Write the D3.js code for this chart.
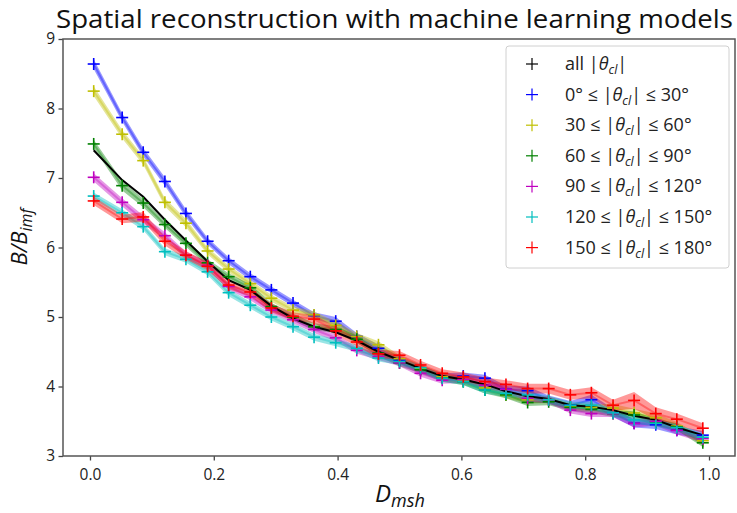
<!DOCTYPE html>
<html><head><meta charset="utf-8">
<script src="https://cdn.jsdelivr.net/npm/d3@7"></script>
<style>body{margin:0;background:#fff}svg{display:block}</style>
</head><body>
<script>
const xValues = [0.006,0.052,0.086,0.121,0.155,0.190,0.224,0.259,0.293,0.328,0.362,0.397,0.431,0.466,0.500,0.534,0.569,0.603,0.638,0.672,0.707,0.741,0.776,0.810,0.845,0.879,0.914,0.948,0.990];
const allTheta = [7.40,6.97,6.73,6.40,6.10,5.80,5.53,5.39,5.16,4.98,4.86,4.78,4.66,4.50,4.38,4.26,4.15,4.10,4.03,3.93,3.86,3.82,3.73,3.71,3.66,3.58,3.52,3.41,3.30];
const theta0_30 = [8.64,7.87,7.37,6.95,6.49,6.09,5.81,5.58,5.39,5.20,5.02,4.94,4.72,4.55,4.38,4.25,4.14,4.15,4.12,3.96,3.94,3.81,3.73,3.81,3.62,3.47,3.45,3.37,3.30];
const theta30_60 = [8.25,7.63,7.25,6.65,6.35,5.95,5.69,5.48,5.27,5.10,5.03,4.88,4.72,4.60,4.40,4.26,4.14,4.08,3.98,3.88,3.81,3.81,3.71,3.70,3.69,3.62,3.55,3.43,3.22];
const theta60_90 = [7.49,6.89,6.64,6.33,6.06,5.78,5.58,5.42,5.15,5.00,4.86,4.82,4.68,4.48,4.34,4.24,4.12,4.07,3.95,3.88,3.77,3.78,3.70,3.67,3.61,3.59,3.49,3.42,3.19];
const theta90_120 = [7.01,6.65,6.40,6.17,5.89,5.74,5.44,5.29,5.10,4.96,4.82,4.70,4.52,4.43,4.34,4.19,4.09,4.10,4.02,3.96,3.83,3.81,3.66,3.61,3.61,3.47,3.50,3.37,3.25];
const theta120_150 = [6.74,6.50,6.30,5.94,5.83,5.65,5.35,5.17,5.00,4.86,4.71,4.63,4.55,4.41,4.36,4.27,4.12,4.07,3.95,3.90,3.88,3.81,3.73,3.73,3.62,3.52,3.47,3.41,3.27];
const theta150_180 = [6.67,6.41,6.44,6.09,5.89,5.73,5.46,5.36,5.13,5.01,4.97,4.80,4.64,4.47,4.45,4.31,4.19,4.14,4.07,4.03,3.97,3.97,3.88,3.91,3.73,3.80,3.61,3.53,3.40];
// half-width of shaded bands
const err0_30 = [0.07,0.06,0.06,0.06,0.06,0.05,0.05,0.05,0.05,0.05,0.05,0.06,0.05,0.05,0.05,0.05,0.05,0.05,0.05,0.05,0.06,0.06,0.06,0.07,0.06,0.06,0.06,0.06,0.06];
const err30_60 = [0.07,0.06,0.06,0.06,0.06,0.05,0.05,0.05,0.05,0.05,0.05,0.05,0.05,0.05,0.05,0.05,0.05,0.05,0.05,0.05,0.05,0.05,0.05,0.05,0.06,0.06,0.06,0.06,0.06];
const err60_90 = [0.06,0.07,0.06,0.05,0.05,0.05,0.05,0.05,0.05,0.05,0.05,0.05,0.05,0.05,0.05,0.05,0.05,0.05,0.05,0.05,0.05,0.05,0.05,0.05,0.05,0.05,0.05,0.05,0.06];
const err90_120 = [0.06,0.06,0.06,0.05,0.05,0.05,0.05,0.05,0.05,0.05,0.05,0.05,0.05,0.05,0.05,0.05,0.05,0.05,0.05,0.05,0.05,0.05,0.05,0.05,0.05,0.06,0.06,0.06,0.06];
const err120_150 = [0.05,0.05,0.05,0.05,0.05,0.05,0.05,0.05,0.05,0.05,0.05,0.05,0.05,0.05,0.05,0.05,0.05,0.05,0.05,0.05,0.05,0.05,0.05,0.05,0.05,0.05,0.05,0.05,0.05];
const err150_180 = [0.06,0.06,0.07,0.06,0.06,0.06,0.06,0.06,0.06,0.06,0.06,0.06,0.06,0.06,0.06,0.06,0.06,0.06,0.06,0.06,0.07,0.07,0.07,0.08,0.08,0.12,0.09,0.08,0.07];
const legendPrefix = ["all ","0° ≤ ","30 ≤ ","60 ≤ ","90 ≤ ","120 ≤ ","150 ≤ "];
const legendSuffix = [""," ≤ 30°"," ≤ 60°"," ≤ 90°"," ≤ 120°"," ≤ 150°"," ≤ 180°"];
const xTicks = [0.0,0.2,0.4,0.6,0.8,1.0];
const yTicks = [3,4,5,6,7,8,9];
const titleText = "Spatial reconstruction with machine learning models";

const colors = ["#000000","#0000ff","#bfbf00","#008000","#bf00bf","#00bfbf","#ff0000"];
const series = [
  {v: allTheta, e: null},
  {v: theta0_30, e: err0_30},
  {v: theta30_60, e: err30_60},
  {v: theta60_90, e: err60_90},
  {v: theta90_120, e: err90_120},
  {v: theta120_150, e: err120_150},
  {v: theta150_180, e: err150_180}
];

const W = 737, H = 513;
const L = 63, R = 735, T = 39, B = 456;
const svg = d3.select("body").append("svg").attr("width", W).attr("height", H)
  .style("font-family","'Open Sans', sans-serif");

const x = d3.scaleLinear().domain([-0.0436, 1.042]).range([L, R]);
const y = d3.scaleLinear().domain([3, 9]).range([B, T]);

// title
svg.append("text").attr("x", 56).attr("y", 28)
  .attr("font-size", 26).attr("textLength", 677).attr("lengthAdjust","spacingAndGlyphs")
  .attr("fill","#111").text(titleText);

const plot = svg.append("g");
svg.append("clipPath").attr("id","clip").append("rect")
  .attr("x", L).attr("y", T).attr("width", R-L).attr("height", B-T);
plot.attr("clip-path","url(#clip)");

const idx = d3.range(xValues.length);
const area = (s) => d3.area().x(i => x(xValues[i])).y0(i => y(s.v[i]-s.e[i])).y1(i => y(s.v[i]+s.e[i]));
const line = (s) => d3.line().x(i => x(xValues[i])).y(i => y(s.v[i]));

const order = [1,2,3,4,5,6];
order.forEach(k => {
  const s = series[k];
  plot.append("path").attr("d", area(s)(idx)).attr("fill", colors[k]).attr("fill-opacity", 0.4).attr("stroke","none");
  plot.append("path").attr("d", line(s)(idx)).attr("fill","none").attr("stroke", colors[k]).attr("stroke-opacity",0.35).attr("stroke-width",2);
});
plot.append("path").attr("d", line(series[0])(idx)).attr("fill","none").attr("stroke","#000").attr("stroke-width",2);
order.forEach(k => {
  const s = series[k];
  const g = plot.append("g").attr("stroke", colors[k]).attr("stroke-width",1.6);
  idx.forEach(i => {
    const cx = x(xValues[i]), cy = y(s.v[i]);
    g.append("line").attr("x1",cx-6).attr("x2",cx+6).attr("y1",cy).attr("y2",cy);
    g.append("line").attr("x1",cx).attr("x2",cx).attr("y1",cy-6).attr("y2",cy+6);
  });
});

// axes
const xAxis = svg.append("g").attr("transform",`translate(0,${B})`)
  .call(d3.axisBottom(x).tickValues(xTicks).tickFormat(d3.format(".1f")).tickSizeOuter(0).tickSize(4.5));
const yAxis = svg.append("g").attr("transform",`translate(${L},0)`)
  .call(d3.axisLeft(y).tickValues(yTicks).tickFormat(d3.format("d")).tickSizeOuter(0).tickSize(4.5));
[xAxis,yAxis].forEach(a => {
  a.select(".domain").remove();
  a.selectAll(".tick line").attr("stroke","#444").attr("stroke-width",1.3);
  a.selectAll(".tick text").attr("font-size",15.5).attr("fill","#222").attr("font-family","'Open Sans', sans-serif");
});
xAxis.selectAll(".tick text").attr("dy","1.05em");
yAxis.selectAll(".tick text").attr("x",-8);

svg.append("rect").attr("x",L).attr("y",T).attr("width",R-L).attr("height",B-T)
  .attr("fill","none").attr("stroke","#555").attr("stroke-width",1.5);

// axis labels
svg.append("text").attr("x", 400).attr("y", 502).attr("text-anchor","middle")
  .attr("font-size",24).attr("font-style","italic").attr("fill","#111")
  .html('D<tspan font-size="18" dy="5">msh</tspan>');
svg.append("text").attr("transform","translate(27,237) rotate(-90)").attr("text-anchor","middle")
  .attr("font-size",22).attr("font-style","italic").attr("fill","#111")
  .html('B/B<tspan font-size="16" dy="5">imf</tspan>');

// legend
const lg = svg.append("g");
lg.append("rect").attr("x",506).attr("y",46).attr("width",223).attr("height",222).attr("rx",3)
  .attr("fill","#fff").attr("fill-opacity",0.85).attr("stroke","#d0d0d0").attr("stroke-width",1);
legendPrefix.forEach((pre,k) => {
  const cy = 64 + k*30.6;
  const g = lg.append("g").attr("stroke", colors[k]).attr("stroke-width",1.2);
  g.append("line").attr("x1",526).attr("x2",538).attr("y1",cy).attr("y2",cy);
  g.append("line").attr("x1",532).attr("x2",532).attr("y1",cy-6).attr("y2",cy+6);
  const t = lg.append("text").attr("x",565).attr("y",cy+6)
    .attr("font-size",18).attr("fill","#222");
  t.append("tspan").text(pre + "|");
  t.append("tspan").attr("font-style","italic").text("θ");
  t.append("tspan").attr("font-style","italic").attr("font-size",12.5).attr("dy",4).text("cl");
  t.append("tspan").attr("dy",-4).text("|" + legendSuffix[k]);
});
</script>
</body></html>
